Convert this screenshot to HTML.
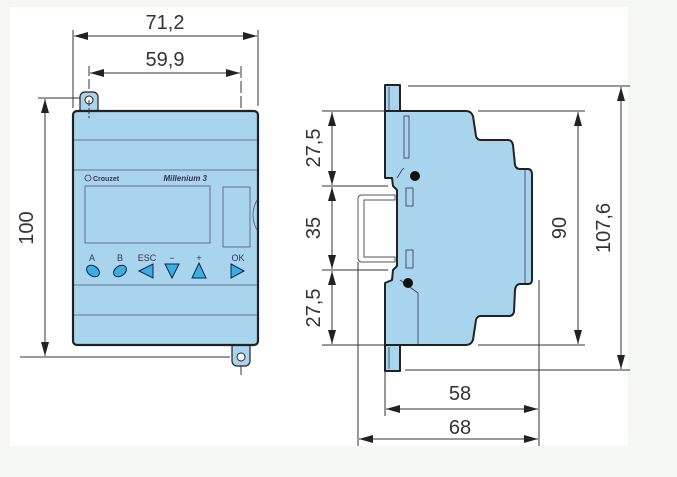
<!DOCTYPE html>
<html><head><meta charset="utf-8"><style>
html,body{margin:0;padding:0;background:#f5f7f5;}
svg{display:block;font-family:"Liberation Sans",sans-serif;}
</style></head><body>
<svg width="677" height="477" viewBox="0 0 677 477" xmlns="http://www.w3.org/2000/svg">
<defs>
<marker id="a" viewBox="0 0 14 8" refX="14" refY="4" markerWidth="14" markerHeight="8" orient="auto-start-reverse" markerUnits="userSpaceOnUse"><path d="M0,0 L14,4 L0,8 z" fill="#222"/></marker>
</defs>
<rect x="10" y="7" width="618" height="439" fill="#fff"/>
<g stroke="#333" stroke-width="1" fill="none">
<line x1="73" y1="30" x2="73" y2="108"/>
<line x1="258" y1="30" x2="258" y2="106"/>
<line x1="74" y1="36" x2="257" y2="36" marker-start="url(#a)" marker-end="url(#a)"/>
<line x1="89" y1="66" x2="89" y2="115" stroke-dasharray="10,3"/>
<line x1="241" y1="66" x2="241" y2="375" stroke-dasharray="12,3"/>
<line x1="90" y1="73" x2="240" y2="73" marker-start="url(#a)" marker-end="url(#a)"/>
<line x1="38" y1="98" x2="80" y2="98"/>
<line x1="20" y1="357" x2="230" y2="357"/>
<line x1="45" y1="99" x2="45" y2="356" marker-start="url(#a)" marker-end="url(#a)"/>
</g>
<g font-size="20" fill="#333" text-anchor="middle">
<text x="165" y="29">71,2</text>
<text x="165" y="66">59,9</text>
<text transform="translate(33,228) rotate(-90)">100</text>
</g>
<g stroke="#222" fill="#a8d4ee">
<rect x="80" y="92" width="18" height="22" rx="5" stroke-width="1.2"/>
<rect x="232" y="342" width="18" height="24" rx="5" stroke-width="1.2"/>
<rect x="73" y="111" width="185" height="234" rx="4" stroke-width="2.2"/>
</g>
<circle cx="89" cy="100" r="4" fill="#fff" stroke="#222"/>
<circle cx="241" cy="357" r="4" fill="#fff" stroke="#222"/>
<g stroke="#557" stroke-width="0.8" fill="none">
<line x1="74" y1="140" x2="257" y2="140"/>
<line x1="74" y1="170" x2="257" y2="170"/>
<line x1="74" y1="285" x2="257" y2="285"/>
<line x1="74" y1="315" x2="257" y2="315"/>
<rect x="85" y="186" width="125" height="57"/>
<rect x="223" y="187" width="27" height="60"/>
<path d="M257,200 q-8,15 0,30"/>
</g>
<line x1="89" y1="100" x2="89" y2="118" stroke="#333" stroke-dasharray="6,2"/>
<text x="93" y="181" font-size="7" font-weight="bold" fill="#335">Crouzet</text>
<circle cx="88" cy="178" r="3" fill="none" stroke="#335" stroke-width="0.8"/>
<text x="207" y="181" font-size="8" font-style="italic" font-weight="bold" fill="#335" text-anchor="end">Millenium 3</text>
<g font-size="9" fill="#335" text-anchor="middle">
<text x="92" y="261">A</text><text x="120" y="261">B</text><text x="147" y="261">ESC</text><text x="172" y="261">−</text><text x="199" y="261">+</text><text x="238" y="261">OK</text>
</g>
<g fill="#3ab0e0" stroke="#124" stroke-width="1">
<ellipse cx="93" cy="271" rx="7" ry="5" transform="rotate(35 93 271)"/>
<ellipse cx="120" cy="271" rx="7" ry="5" transform="rotate(-35 120 271)"/>
<path d="M139,271 L153,264 L153,278 z"/>
<path d="M165,264 L179,264 L172,278 z"/>
<path d="M199,263 L206,278 L192,278 z"/>
<path d="M231,264 L244,271 L231,278 z"/>
</g>
<g stroke="#333" stroke-width="1" fill="none">
<line x1="322" y1="111" x2="385" y2="111"/>
<line x1="322" y1="186" x2="388" y2="186"/>
<line x1="322" y1="270" x2="388" y2="270"/>
<line x1="322" y1="345" x2="385" y2="345"/>
<line x1="332" y1="112" x2="332" y2="185" marker-start="url(#a)" marker-end="url(#a)"/>
<line x1="332" y1="187" x2="332" y2="269" marker-start="url(#a)" marker-end="url(#a)"/>
<line x1="332" y1="271" x2="332" y2="344" marker-start="url(#a)" marker-end="url(#a)"/>
<line x1="408" y1="86" x2="630" y2="86"/>
<line x1="478" y1="111" x2="585" y2="111"/>
<line x1="478" y1="345" x2="585" y2="345"/>
<line x1="405" y1="370" x2="630" y2="370"/>
<line x1="578" y1="112" x2="578" y2="344" marker-start="url(#a)" marker-end="url(#a)"/>
<line x1="621" y1="87" x2="621" y2="369" marker-start="url(#a)" marker-end="url(#a)"/>
<line x1="385" y1="370" x2="385" y2="416"/>
<line x1="358" y1="262" x2="358" y2="446"/>
<line x1="539" y1="280" x2="539" y2="446"/>
<line x1="386" y1="409" x2="538" y2="409" marker-start="url(#a)" marker-end="url(#a)"/>
<line x1="359" y1="439" x2="538" y2="439" marker-start="url(#a)" marker-end="url(#a)"/>
</g>
<g font-size="20" fill="#333" text-anchor="middle">
<text transform="translate(320,148) rotate(-90)">27,5</text>
<text transform="translate(320,228) rotate(-90)">35</text>
<text transform="translate(320,308) rotate(-90)">27,5</text>
<text transform="translate(566,228) rotate(-90)">90</text>
<text transform="translate(610,228) rotate(-90)">107,6</text>
<text x="460" y="400">58</text>
<text x="460" y="434">68</text>
</g>
<path d="M395,195 L362,195 Q358,195 358,199 L358,258 Q358,262 362,262 L395,262 L395,257 L364,257 L364,200 L395,200 z" fill="#fff" stroke="#555" stroke-width="1"/>
<g stroke="#222" stroke-width="2" fill="#a8d4ee" stroke-linejoin="round">
<rect x="385" y="85" width="15" height="27"/>
<rect x="385" y="345" width="15" height="26"/>
<path d="M385,111 L466,111 Q471,111 473,116 L476,136 Q477,140 481,140 L508,140 Q512,140 513,145 L515,165 Q516,169 520,169 L528,169 Q532,169 532,175 L532,280 Q532,284 528,284 L520,284 Q516,284 515,290 L514,312 Q513,316 509,316 L481,316 Q477,316 476,320 L473,340 Q471,345 466,345 L385,345 L385,283 L392,280 L393,270 L397,266 L397,190 L393,186 L392,178 L385,178 z"/>
</g>
<g stroke="#335" stroke-width="0.8" fill="none">
<line x1="389" y1="87" x2="389" y2="110"/>
<line x1="389" y1="347" x2="389" y2="369"/>
<rect x="404" y="116" width="5" height="42"/>
<rect x="406" y="188" width="7" height="18"/>
<rect x="406" y="250" width="7" height="18"/>
<path d="M397,178 L402,170 L404,168"/>
<path d="M400,280 L418,293 L418,345"/>
<path d="M525,170 L525,283"/>
</g>
<circle cx="415" cy="176" r="5" fill="#111"/>
<circle cx="408" cy="283" r="5" fill="#111"/>
</svg>
</body></html>
